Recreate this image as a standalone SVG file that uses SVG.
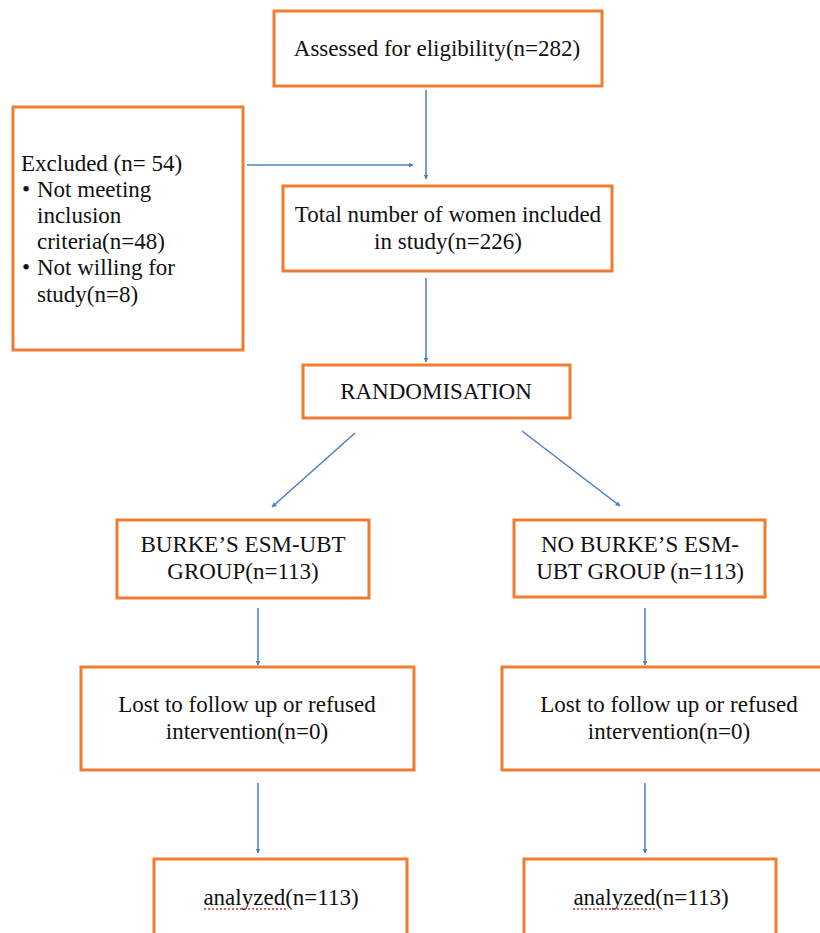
<svg xmlns="http://www.w3.org/2000/svg" width="820" height="933" viewBox="0 0 820 933">
<style>
.box{fill:#fff;stroke:#ED7D31;stroke-width:3}
.t{font-family:'Liberation Serif','Times New Roman',Times,'DejaVu Serif',serif;font-size:23px;fill:#111}
.c{text-anchor:middle}
.ln{stroke:#4A7EC2;stroke-width:1.5;fill:none;marker-end:url(#ah)}
.sq{stroke:#E03030;stroke-width:1.5;stroke-dasharray:2 2;fill:none}
</style>
<defs>
<marker id="ah" viewBox="0 0 10 10" refX="9" refY="5" markerWidth="5" markerHeight="5" orient="auto" markerUnits="userSpaceOnUse">
<path d="M0,0 L10,5 L0,10 z" fill="#4A7EC2"/>
</marker>
</defs>
<rect width="820" height="933" fill="#fff"/>
<g id="assessed"><rect class="box" x="274" y="11" width="328" height="75"/><text class="t c" x="437" y="56">Assessed for eligibility(n=282)</text></g>
<g id="excluded"><rect class="box" x="13" y="107" width="230" height="243"/>
<text class="t" x="21" y="171">Excluded (n= 54)</text>
<text class="t" x="22" y="197">•</text><text class="t" x="37" y="197">Not meeting</text>
<text class="t" x="37" y="223">inclusion</text>
<text class="t" x="37" y="249">criteria(n=48)</text>
<text class="t" x="22" y="275">•</text><text class="t" x="37" y="275">Not willing for</text>
<text class="t" x="37" y="302">study(n=8)</text></g>
<g id="included"><rect class="box" x="283" y="186" width="329" height="85"/><text class="t c" x="448" y="222">Total number of women included</text><text class="t c" x="448" y="249">in study(n=226)</text></g>
<g id="randomisation"><rect class="box" x="303" y="365" width="267" height="53"/><text class="t c" x="436" y="399">RANDOMISATION</text></g>
<g id="burke"><rect class="box" x="117" y="520" width="252" height="78"/><text class="t c" x="243" y="552">BURKE’S ESM-UBT</text><text class="t c" x="243" y="579">GROUP(n=113)</text></g>
<g id="noburke"><rect class="box" x="514" y="520" width="251" height="77"/><text class="t c" x="640" y="552">NO BURKE’S ESM-</text><text class="t c" x="640" y="579">UBT GROUP (n=113)</text></g>
<g id="lost1"><rect class="box" x="81" y="667" width="333" height="103"/><text class="t c" x="247" y="712">Lost to follow up or refused</text><text class="t c" x="247" y="739">intervention(n=0)</text></g>
<g id="lost2"><rect class="box" x="502" y="667" width="330" height="103"/><text class="t c" x="669" y="712">Lost to follow up or refused</text><text class="t c" x="669" y="739">intervention(n=0)</text></g>
<g id="analyzed1"><rect class="box" x="154" y="859" width="253" height="90"/><text class="t c" x="281" y="905">analyzed(n=113)</text><path class="sq" d="M204,909 H287"/></g>
<g id="analyzed2"><rect class="box" x="524" y="859" width="252" height="90"/><text class="t c" x="651" y="905">analyzed(n=113)</text><path class="sq" d="M573,909 H656"/></g>
<g id="connectors">
<path class="ln" d="M426,90 V179"/>
<path class="ln" d="M247,165 H413"/>
<path class="ln" d="M426,278 V362"/>
<path class="ln" d="M355,433 L272,507"/>
<path class="ln" d="M522,431 L620,506"/>
<path class="ln" d="M258,608 V665"/>
<path class="ln" d="M645,608 V665"/>
<path class="ln" d="M258,783 V853"/>
<path class="ln" d="M645,783 V853"/>
</g>
</svg>
